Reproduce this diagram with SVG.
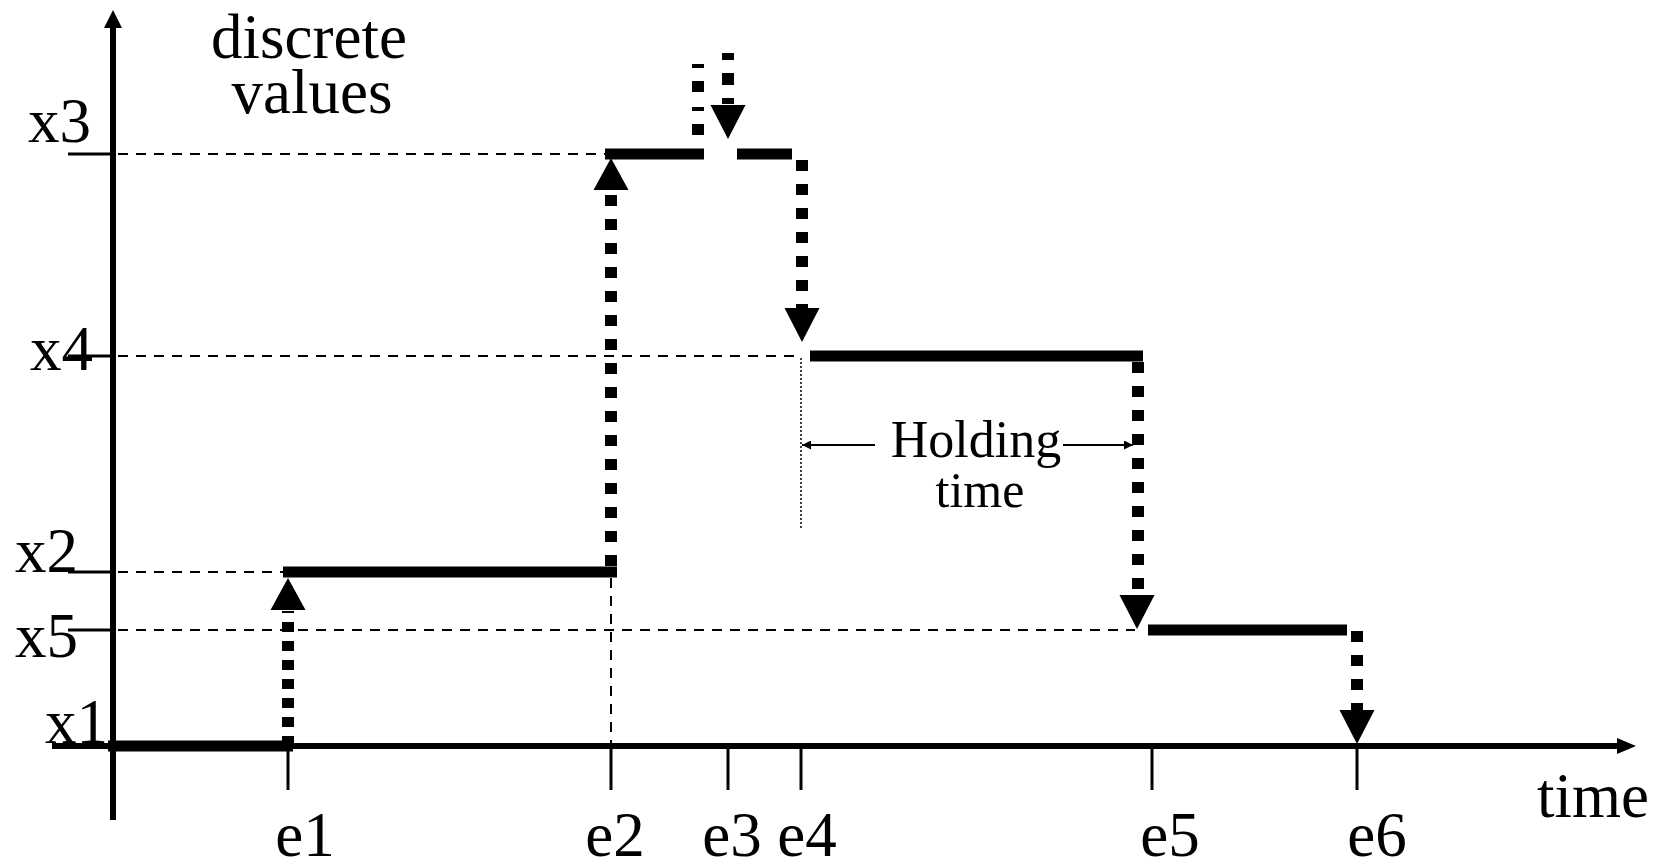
<svg xmlns="http://www.w3.org/2000/svg" width="1662" height="864" viewBox="0 0 1662 864">
  <style>
    .lbl { font-family: "Liberation Serif", "Times New Roman", serif; font-size: 63px; fill: #000; }
    .axis { stroke: #000; stroke-width: 6; fill: none; }
    .tick { stroke: #000; stroke-width: 3; fill: none; }
    .guide { stroke: #000; stroke-width: 2; stroke-dasharray: 10 8; fill: none; }
    .level { stroke: #000; stroke-width: 11; fill: none; }
    .jump { stroke: #000; stroke-width: 12; stroke-dasharray: 11 13; fill: none; }
    .thin { stroke: #000; stroke-width: 2; fill: none; }
    .dots { stroke: #000; stroke-width: 1.5; stroke-dasharray: 2 2; fill: none; }
    .head { fill: #000; }
  </style>
  <defs>
    <!-- downward arrowhead, tip at origin -->
    <path id="hdown" d="M0 0 L-17.5 -34 L17.5 -34 Z"/>
    <!-- upward arrowhead, tip at origin -->
    <path id="hup" d="M0 0 L-17.5 32 L17.5 32 Z"/>
    <marker id="sm" viewBox="0 0 10 10" refX="10" refY="5" markerWidth="9" markerHeight="9" markerUnits="userSpaceOnUse" orient="auto-start-reverse">
      <path d="M0 0 L10 5 L0 10 Z" fill="#000"/>
    </marker>
  </defs>
  <rect width="1662" height="864" fill="#fff"/>

  <!-- axes -->
  <g id="axes">
    <line class="axis" x1="113" y1="820" x2="113" y2="24"/>
    <path class="head" d="M113 10 L104 28 L122 28 Z"/>
    <line class="axis" x1="52" y1="746" x2="1620" y2="746"/>
    <path class="head" d="M1636 746 L1617 738 L1617 754 Z"/>
    <!-- value ticks -->
    <line class="tick" x1="68" y1="154" x2="113" y2="154"/>
    <line class="tick" x1="68" y1="356" x2="113" y2="356"/>
    <line class="tick" x1="68" y1="572" x2="113" y2="572"/>
    <line class="tick" x1="68" y1="630" x2="113" y2="630"/>
    <!-- event ticks -->
    <line class="tick" x1="288" y1="746" x2="288" y2="790"/>
    <line class="tick" x1="611" y1="746" x2="611" y2="790"/>
    <line class="tick" x1="728" y1="746" x2="728" y2="790"/>
    <line class="tick" x1="801" y1="746" x2="801" y2="790"/>
    <line class="tick" x1="1152" y1="746" x2="1152" y2="790"/>
    <line class="tick" x1="1357" y1="746" x2="1357" y2="790"/>
  </g>

  <!-- guide lines -->
  <g id="guides">
    <line class="guide" x1="118" y1="154" x2="605" y2="154"/>
    <line class="guide" x1="118" y1="356" x2="800" y2="356"/>
    <line class="guide" x1="118" y1="572" x2="283" y2="572"/>
    <line class="guide" x1="118" y1="630" x2="1135" y2="630"/>
    <line class="guide" x1="611" y1="578" x2="611" y2="746"/>
    <line class="dots" x1="801" y1="358" x2="801" y2="528"/>
  </g>

  <!-- value levels -->
  <g id="levels">
    <line class="level" x1="108" y1="746" x2="293" y2="746"/>
    <line class="level" x1="283" y1="572" x2="617" y2="572"/>
    <line class="level" x1="605" y1="154" x2="704" y2="154"/>
    <line class="level" x1="737" y1="154" x2="792" y2="154"/>
    <line class="level" x1="810" y1="356" x2="1143" y2="356"/>
    <line class="level" x1="1148" y1="630" x2="1347" y2="630"/>
  </g>

  <!-- transitions -->
  <g id="connectors">
    <line class="jump" x1="288" y1="746" x2="288" y2="611" style="stroke-dasharray:10 9"/>
    <use href="#hup" class="head" x="288" y="578"/>
    <line class="jump" x1="611" y1="566" x2="611" y2="192"/>
    <use href="#hup" class="head" x="611" y="158"/>
    <line class="jump" x1="698" y1="154" x2="698" y2="53" style="stroke-dasharray:4 15 11 13"/>
    <line class="jump" x1="728" y1="53" x2="728" y2="104" style="stroke-dasharray:7 13 12 13"/>
    <use href="#hdown" class="head" x="728" y="139"/>
    <line class="jump" x1="802" y1="160" x2="802" y2="308"/>
    <use href="#hdown" class="head" x="802" y="342"/>
    <line class="jump" x1="1138" y1="362" x2="1138" y2="596"/>
    <use href="#hdown" class="head" x="1137" y="629"/>
    <line class="jump" x1="1357" y1="631" x2="1357" y2="712"/>
    <use href="#hdown" class="head" x="1357" y="744"/>
    <!-- holding time span -->
    <line class="thin" x1="875" y1="445" x2="802" y2="445" marker-end="url(#sm)"/>
    <line class="thin" x1="1063" y1="445" x2="1133" y2="445" marker-end="url(#sm)"/>
  </g>

  <!-- labels -->
  <g id="labels">
    <text class="lbl" x="309" y="58" text-anchor="middle">discrete</text>
    <text class="lbl" x="312" y="113" text-anchor="middle">values</text>
    <text class="lbl" x="28" y="142">x3</text>
    <text class="lbl" x="30" y="370">x4</text>
    <text class="lbl" x="15" y="572">x2</text>
    <text class="lbl" x="15" y="657">x5</text>
    <text class="lbl" x="45" y="743">x1</text>
    <text class="lbl" x="305" y="856" text-anchor="middle">e1</text>
    <text class="lbl" x="615" y="856" text-anchor="middle">e2</text>
    <text class="lbl" x="732" y="856" text-anchor="middle">e3</text>
    <text class="lbl" x="807" y="856" text-anchor="middle">e4</text>
    <text class="lbl" x="1170" y="856" text-anchor="middle">e5</text>
    <text class="lbl" x="1377" y="856" text-anchor="middle">e6</text>
    <text class="lbl" x="1593" y="817" text-anchor="middle">time</text>
    <text class="lbl" x="976" y="457" text-anchor="middle" style="font-size:52px">Holding</text>
    <text class="lbl" x="980" y="507" text-anchor="middle" style="font-size:50px">time</text>
  </g>
</svg>
